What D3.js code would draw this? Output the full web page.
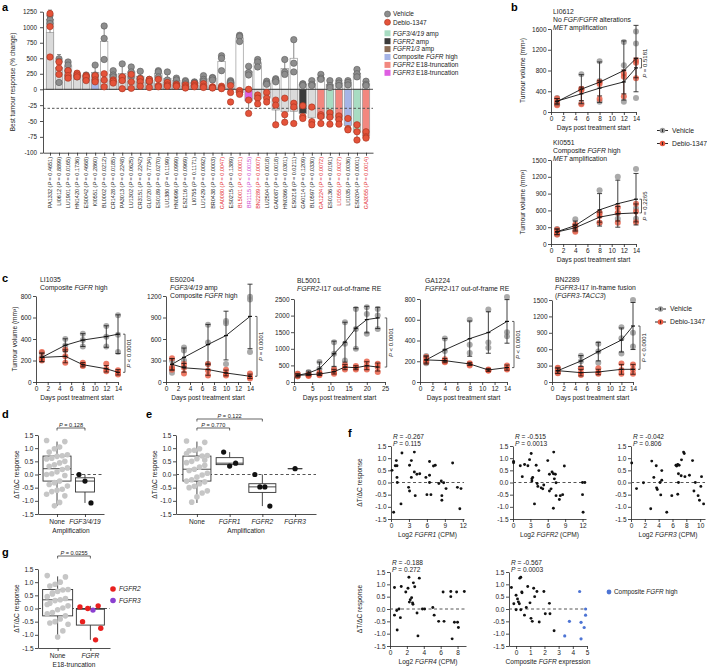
<!DOCTYPE html>
<html><head><meta charset="utf-8">
<script src="https://cdn.jsdelivr.net/npm/d3@7"></script>
<style>body{margin:0;background:#fff}</style>
</head><body><script>
// ================= DATA =================
// Panel a
const aModels = ["PA1332","LI0612","LU1901","HN1420","ES0042","KI0551","BL0002","CR1428","PA3013","LU1302","CR3151","GL0720","ES0189","LU1380","HN0696","ES2116","LI0755","LU1429","BR0438","GA0080","ES0215","BL5001","BR1115","BN2289","LU2504","GA0087","HN0366","ES0218","GA0114","BL0597","GA1224","ES0136","LI1055","LI1035","ES0204","GA3055"];
const aPvals = ["= 0.4651","= 0.8899","= 0.0165","= 0.1736","= 0.4668","= 0.2860","= 0.0212","= 0.0185","= 0.2248","= 0.0625","= 0.2242","= 0.7734","= 0.0270","= 0.1199","= 0.0999","= 0.0969","= 0.1171","= 0.0092","= 0.0003","= 0.0047","= 0.1389","< 0.0001","= 0.0015","= 0.0007","= 0.0018","= 0.0018","= 0.0301","= 0.0211","= 0.1209","= 0.0330","= 0.0072","= 0.0191","= 0.0027","= 0.0036","= 0.0001","= 0.0014"];
const aLabelClass = ["k","k","k","k","k","k","k","k","k","k","k","k","k","k","k","k","k","k","k","r","k","r","m","r","k","k","k","k","k","k","r","k","r","k","k","r"];
const aGroups = ["none","none","none","none","none","comp","none","none","none","none","none","none","none","none","none","none","none","none","none","none","none","none","fgfr3e18","none","none","none","none","none","fgfr2amp","none","fgfr2e18","fgf","fgfr2e18","comp","fgf","fgfr2e18"];
const aVehicle = [[1190,1120,1060],[490,450,110],[440,390,300],[250,220,200],[230,220,160],[390,230,200],[1020,820,480],[300,230,200],[410,200,150],[360,280,200],[290,180,160],[160,150,120],[300,280,200],[280,150,100],[180,150,90],[140,120,90],[120,110,100],[220,160,130],[190,180,150],[540,500,300],[140,120,100],[870,850,770],[370,270,230],[480,440,360],[130,100,80],[170,150,120],[480,280,240],[800,420,280],[90,80,60],[140,80,60],[240,180,160],[140,60,30],[140,100,60],[140,110,70],[320,250,200],[130,80,60]];
const aDebio = [[1220,1010,520],[440,340,240],[300,220,180],[260,230,200],[220,200,140],[220,150,120],[250,150,40],[150,130,100],[200,140,10],[240,120,15],[170,120,50],[160,130,30],[160,60,40],[110,70,50],[80,60,50],[70,40,20],[90,60,40],[90,50,30],[40,30,20],[50,30,10],[60,-5,-20],[-2,-5,-8],[0,-17,-38],[-9,-14,-23],[-5,-14,-20],[-17,-25,-56],[-14,-40,-52],[-22,-28,-54],[-26,-43,-46],[-28,-51,-56],[-40,-43,-54],[-37,-44,-55],[-42,-48,-55],[-46,-62,-64],[-56,-67,-80],[-67,-75,-77]];
const aPosTicks = [0,250,500,750,1000,1250];
const aNegTicks = [-25,-50,-75,-100];
const aThreshold = -30;
const aLegendGroups = [["fgf","*FGF3/4/19* amp"],["fgfr2amp","*FGFR2* amp"],["fgfr13","*FGFR1/3* amp"],["comp","Composite *FGFR* high"],["fgfr2e18","*FGFR2* E18-truncation"],["fgfr3e18","*FGFR3* E18-truncation"]];

// Panel b / c growth curves
const b1Days=[1,5,8,12,14], b1VMean=[200,440,575,800,1030], b1VErr=[60,280,390,570,640], b1DMean=[210,350,460,580,850], b1DErr=[50,130,150,230,190];
const b1VDots=[[270,180,150],[730,440,170],[980,600,200],[1350,900,200],[1550,1320,270]];
const b1DDots=[[260,200,130],[450,420,150],[580,540,250],[740,680,300],[1000,950,650]];
const b2Days=[1,4,8,11,14], b2VMean=[220,330,610,720,800], b2VErr=[50,80,290,420,460], b2DMean=[215,290,480,540,555], b2DErr=[50,60,90,130,160];
const b2VDots=[[270,200,170],[440,330,240],[960,560,380],[1200,550,450],[1340,640,450]];
const b2DDots=[[260,210,170],[350,300,220],[560,500,380],[650,560,380],[720,580,390]];
const c1Days=[1,5,8,12,14], c1VMean=[229,342,390,423,445], c1VErr=[40,60,60,100,180], c1DMean=[229,239,161,123,90], c1DErr=[40,60,20,30,25];
const c1VDots=[[270,230,210],[400,340,300],[450,390,330],[520,420,330],[620,440,280]];
const c1DDots=[[280,220,200],[300,240,180],[180,160,150],[170,120,100],[110,90,70]];
const c2Days=[1,3,7,10,14], c2VMean=[247,344,523,648,915], c2VErr=[80,130,280,340,450], c2DMean=[247,198,174,126,80], c2DErr=[80,60,80,40,30];
const c2VDots=[[300,200,130],[480,440,300],[800,550,250],[850,820,250],[1190,1150,420]];
const c2DDots=[[330,200,170],[250,200,120],[250,160,90],[170,110,90],[120,70,50]];
const c3Days=[1,4,7,11,14,17,20,23], c3VMean=[200,270,400,850,1200,1620,1880,1930], c3VErr=[50,60,200,380,600,620,400,320], c3DMean=[200,220,240,310,450,430,490,450], c3DErr=[40,30,40,70,80,60,120,120];
const c3VDots=[[250,200,170],[300,230,200],[600,400,250],[1200,850,400],[1800,1150,650],[2200,1600,1000],[2250,2050,1450],[2200,2000,1600]];
const c3DDots=[[250,200,170],[230,200,180],[280,240,200],[380,300,250],[520,450,380],[480,430,380],[620,480,380],[550,450,300]];
const c4Days=[1,4,8,11,14], c4VMean=[213,310,418,477,584], c4VErr=[40,110,170,200,210], c4DMean=[213,206,174,116,139], c4DErr=[30,20,15,15,25];
const c4VDots=[[250,200,180],[420,300,200],[600,360,280],[700,380,330],[820,480,440]];
const c4DDots=[[240,210,190],[220,200,190],[180,170,160],[120,110,110],[160,130,120]];
const c5Days=[1,5,8,12,14], c5VMean=[207,384,555,768,1024], c5VErr=[50,100,170,220,430], c5DMean=[207,171,183,232,232], c5DErr=[50,60,50,90,90];
const c5VDots=[[250,200,170],[480,380,250],[700,560,350],[1000,800,520],[1500,900,650]];
const c5DDots=[[260,200,160],[250,170,130],[250,180,150],[340,220,150],[320,230,150]];

// Panel d / e / g (ΔT/ΔC)
const dCats=["None","FGF3/4/19"];
const dNone=[1.29,1.25,1.04,0.98,0.85,0.75,0.71,0.69,0.62,0.59,0.5,0.44,0.37,0.31,0.25,0.19,0.1,0.03,0,-0.04,-0.25,-0.31,-0.38,-0.44,-0.56,-0.6,-0.65,-0.75,-0.81,-1.06,-1.19];
const dFgf=[0.0,-0.25,-1.08];
const dStats=[[-1.2,-0.25,0.22,0.7,1.25],[-1.08,-0.665,-0.25,-0.125,0]];
const eCats=["None","FGFR1","FGFR2","FGFR3"];
const eNone=[1.27,1.22,0.98,0.92,0.9,0.72,0.7,0.6,0.5,0.45,0.35,0.28,0.2,0.15,0.05,-0.02,-0.1,-0.2,-0.25,-0.28,-0.35,-0.45,-0.5,-0.62,-0.7,-0.85,-1.05,0.8,0.55];
const eF1=[0.85,0.32,0.43], eF2=[0,-0.47,-0.47,-1.2], eF3=[0.22];
const eStats=[[-1.08,-0.25,0.2,0.7,1.25],[0.32,0.375,0.43,0.64,0.85],[-1.2,-0.68,-0.47,-0.35,0],[0.22,0.22,0.22,0.22,0.22]];
const gCats=["None","FGFR"];
const gNone=[1.25,1.2,1.0,0.92,0.85,0.72,0.7,0.65,0.55,0.45,0.38,0.33,0.3,0.2,0.1,0.02,-0.05,-0.15,-0.2,-0.28,-0.4,-0.5,-0.55,-0.6,-0.85,-1.08,0.6,0.15];
const gFgfr=[0.06,0.1,-0.06,0,-0.5,-0.75,-1.19];
const gFgfrType=["FGFR2","FGFR2","FGFR3","FGFR2","FGFR2","FGFR2","FGFR2"];
const gStats=[[-1.08,-0.28,0.33,0.72,1.22],[-1.19,-0.63,-0.03,0,0.1]];

// Panel f scatter
const f1Pts=[[0.17,0.5],[0.44,-1.22],[0.72,0.69],[0.89,0.9],[1.0,0.69],[1.0,0.21],[1.05,0],[1.83,1.21],[1.67,-0.88],[2.94,-0.2],[3.1,0.71],[3.1,-0.35],[3.4,0.9],[3.4,0.21],[3.9,1.25],[3.9,0.43],[4.05,-0.54],[4.33,0.34],[4.8,0.36],[5.83,0.21],[6.0,-0.5],[6.44,0.86],[6.44,0.3],[6.44,0],[6.67,-0.5],[7.1,0.68],[7.4,0.71],[8.0,-0.04],[8.4,0.06],[8.5,-0.54],[8.5,-0.73],[8.8,-0.01],[9.2,-0.25],[10.3,0.8],[11.1,-0.2],[11.5,-1.08],[11.7,-0.25]];
const f2Pts=[[0.1,0.86],[0.1,0.81],[1.26,0.69],[1.6,0.24],[2.0,0.74],[2.57,0.69],[2.86,0.94],[3.14,1.19],[3.26,0.15],[3.4,0.21],[3.26,0.06],[3.71,-0.88],[4.0,0.71],[4.46,0.49],[4.17,-0.04],[4.29,-0.16],[4.86,-0.22],[5.14,-0.26],[5.31,-0.1],[6.0,0.9],[6.29,0.34],[6.29,-0.35],[6.57,-0.26],[6.74,0.43],[6.97,0.36],[7.03,1.25],[6.97,-1.06],[7.14,0.15],[7.31,0.34],[7.43,-0.01],[7.43,-0.54],[8.0,-0.7],[8.17,-0.54],[8.57,-0.5],[8.86,0.68],[12,0],[12.4,0],[12,-0.5],[12.1,-1.22]];
const f3Pts=[[0.1,0.8],[0.8,-0.25],[1.8,-0.01],[3.0,0.88],[3.3,0.21],[2.85,-1.08],[3.65,0.69],[3.7,-0.22],[3.8,-0.29],[4.2,0],[4.45,0.49],[4.45,0.09],[4.3,-0.51],[5.17,-1.22],[5.9,-0.54],[6.5,0.71],[6.6,0.68],[6.76,0.74],[6.86,0.36],[6.86,0],[6.76,-0.48],[6.96,0.71],[7.25,0.28],[7.3,0.93],[7.6,1.25],[7.7,1.19],[7.8,0.24],[8.45,0.3],[8.9,0.9],[9.1,-0.35],[9.3,0],[9.7,-0.54],[9.9,-0.73],[10.2,0.24],[10.1,-0.16],[10.5,-0.88]];
const f4Pts=[[0.53,0.87],[0.53,-0.25],[0.8,-0.06],[0.85,-0.85],[1.07,0],[1.23,-0.35],[1.33,0.91],[1.87,0.69],[2.13,0.84],[2.24,1.29],[2.4,0.38],[2.29,0.28],[2.56,0.46],[2.67,0.25],[2.72,0.19],[2.77,1.06],[2.93,0.9],[3.2,-0.16],[3.31,-1.09],[3.47,1.25],[3.84,0],[4.1,0],[5.07,0.06],[5.23,-0.25],[5.76,-0.5],[6.4,-0.5],[6.29,0.69],[7.2,0.5],[7.2,0.71],[7.36,-1.21],[7.63,-0.54],[7.89,0.69],[8.0,-0.54],[8.1,-0.75],[8.8,0.71]];
const f5Pts=[[-0.33,0.87],[-0.16,0.21],[0,0.56],[0.1,0.41],[0.16,0.29],[0,-0.03],[0.23,0.21],[0.33,-0.03],[0.26,1.25],[0.33,1.29],[0.42,0.66],[0.4,0.69],[0.59,-0.25],[0.72,0.06],[0.82,0.91],[0.98,0.25],[1.05,-0.38],[1.14,-0.5],[1.24,0.84],[1.31,0.5],[1.47,0.71],[1.63,-0.53],[1.96,0.71],[2.06,-0.19],[2.35,0.23],[2.39,-0.19],[2.68,-0.88]];
const f5High=[[3.43,-1.09],[3.76,-0.5],[4.48,0.71],[4.58,-0.54],[4.58,-1.21],[4.8,-0.75],[4.9,0],[4.9,-0.25]];
const fStats=[["R = -0.267","P = 0.115"],["R = -0.515","P = 0.0013"],["R = -0.042","P = 0.806"],["R = -0.188","P = 0.272"],["R = -0.567","P = 0.0003"]];

// ================= DRAWING =================
const FONT='"Liberation Sans", Arial, Helvetica, sans-serif';
const INK="#222";
const COL={gray:"#8d8d8d",grayS:"#5c5c5c",red:"#e4533a",redS:"#a5321f",light:"#c8c8c8"};
const groupFill={none:"#dadada",fgf:"#a8dcc2",fgfr2amp:"#3a3a3a",fgfr13:"#8b6d57",comp:"#a6b4e6",fgfr2e18:"#f2877f",fgfr3e18:"#de5ee2"};
const labelFill={k:"#222",r:"#e3262b",m:"#c93ad0"};
const fmtInt=d3.format("d");
const svg=d3.select("body").append("svg").attr("width",707).attr("height",669).attr("font-family",FONT);
svg.append("rect").attr("width",707).attr("height",669).attr("fill","#fff");

function rich(g,x,y,str,size,o={}){
  const t=g.append("text").attr("x",x).attr("y",y).attr("font-size",size).attr("fill",o.fill||INK).attr("font-family",FONT);
  if(o.anchor) t.attr("text-anchor",o.anchor);
  if(o.rotate!==undefined) t.attr("transform",`rotate(${o.rotate},${x},${y})`);
  if(o.weight) t.attr("font-weight",o.weight);
  str.split("*").forEach((s,i)=>{ if(s) t.append("tspan").attr("font-style",i%2?"italic":"normal").text(s); });
  return t;
}
function sty(g,fs=6.3){
  g.attr("font-family",FONT).attr("font-size",fs);
  g.selectAll(".domain").attr("stroke",INK).attr("stroke-width",0.8);
  g.selectAll(".tick line").attr("stroke",INK).attr("stroke-width",0.8);
  g.selectAll(".tick text").attr("fill",INK);
}
const fmtDash=f=>v=>f(v).replace("\u2212","-");

// panel letters
[["a",2,11],["b",511,11],["c",2,282],["d",2,418],["e",146,418],["f",348,437],["g",2,556]].forEach(([l,x,y])=>rich(svg,x,y,l,11,{weight:"bold",fill:"#000"}));

// ---------- Panel a ----------
(function(){
  const g=svg.append("g");
  const x=d3.scalePoint().domain(aModels).range([43,373]).padding(0.775);
  const yp=d3.scaleLinear().domain([0,1250]).range([89.3,11.7]);
  const yn=d3.scaleLinear().domain([-100,0]).range([152.7,89.3]);
  const y=v=>v>=0?yp(v):yn(v);
  const bw=7.4;
  g.append("g").attr("transform","translate(43,0)").call(d3.axisLeft(yp).tickValues(aPosTicks).tickFormat(fmtInt).tickSize(3).tickSizeOuter(0)).call(sty,6.3);
  g.append("g").attr("transform","translate(43,0)").call(d3.axisLeft(yn).tickValues(aNegTicks).tickFormat(fmtDash(fmtInt)).tickSize(3).tickSizeOuter(0)).call(sty,6.3);
  g.append("g").attr("transform","translate(0,152.7)").call(d3.axisBottom(x).tickSize(3).tickSizeOuter(0).tickFormat("")).call(sty);
  rich(g,15,82,"Best tumour response (% change)",6.5,{anchor:"middle",rotate:-90});
  aModels.forEach((m,i)=>{
    const vm=d3.mean(aVehicle[i]), dm=d3.mean(aDebio[i]);
    const cx=x(m);
    g.append("rect").attr("x",cx-bw/2).attr("width",bw).attr("y",Math.min(y(vm),y(0))).attr("height",Math.abs(y(vm)-y(0))).attr("fill","#fff").attr("stroke","#9a9a9a").attr("stroke-width",0.7);
    g.append("rect").attr("x",cx-bw/2).attr("width",bw).attr("y",Math.min(y(dm),y(0))).attr("height",Math.abs(y(dm)-y(0))).attr("fill",groupFill[aGroups[i]]).attr("stroke","#9a9a9a").attr("stroke-width",0.7);
    [[vm,d3.deviation(aVehicle[i])],[dm,d3.deviation(aDebio[i])]].forEach(([mn,sd])=>{
      const e=mn+(mn>=0?sd:-sd);
      g.append("line").attr("x1",cx).attr("x2",cx).attr("y1",y(mn)).attr("y2",y(e)).attr("stroke","#555").attr("stroke-width",0.7);
      g.append("line").attr("x1",cx-2).attr("x2",cx+2).attr("y1",y(e)).attr("y2",y(e)).attr("stroke","#555").attr("stroke-width",0.7);
    });
  });
  g.append("line").attr("x1",43).attr("x2",373).attr("y1",y(0)).attr("y2",y(0)).attr("stroke",INK).attr("stroke-width",0.8);
  g.append("line").attr("x1",43).attr("x2",373).attr("y1",y(aThreshold)).attr("y2",y(aThreshold)).attr("stroke","#555").attr("stroke-width",1).attr("stroke-dasharray","2.5,2");
  aModels.forEach((m,i)=>{
    aVehicle[i].forEach(v=>g.append("circle").attr("cx",x(m)).attr("cy",y(v)).attr("r",3.2).attr("fill",COL.gray).attr("stroke",COL.grayS).attr("stroke-width",0.6));
  });
  aModels.forEach((m,i)=>{
    aDebio[i].forEach(v=>g.append("circle").attr("cx",x(m)).attr("cy",y(v)).attr("r",3.2).attr("fill",COL.red).attr("stroke",COL.redS).attr("stroke-width",0.6));
  });
  aModels.forEach((m,i)=>{
    rich(g,x(m)+2,157,`${m} (*P* ${aPvals[i]})`,5.5,{anchor:"end",rotate:-90,fill:labelFill[aLabelClass[i]]});
  });
  const lg=svg.append("g");
  lg.append("circle").attr("cx",387.5).attr("cy",14).attr("r",3).attr("fill",COL.gray).attr("stroke",COL.grayS).attr("stroke-width",0.6);
  rich(lg,393,16.3,"Vehicle",6.5);
  lg.append("circle").attr("cx",387.5).attr("cy",22.3).attr("r",3).attr("fill",COL.red).attr("stroke",COL.redS).attr("stroke-width",0.6);
  rich(lg,393,24.6,"Debio-1347",6.5);
  aLegendGroups.forEach(([k,t],i)=>{
    const yy=33.3+i*7.9;
    lg.append("rect").attr("x",384.5).attr("y",yy-3).attr("width",6).attr("height",6).attr("fill",groupFill[k]);
    rich(lg,393,yy+2.3,t,6.5);
  });
})();

// ---------- growth chart helper ----------
function growth(c){
  const g=svg.append("g");
  const x=d3.scaleLinear().domain(c.xd).range(c.xr);
  const y=d3.scaleLinear().domain(c.yd).range(c.yr);
  g.append("g").attr("transform",`translate(0,${c.yr[0]})`).call(d3.axisBottom(x).tickValues(c.xt).tickFormat(fmtInt).tickSize(3).tickSizeOuter(0).tickPadding(1.5)).call(sty,6.5);
  g.append("g").attr("transform",`translate(${c.xr[0]},0)`).call(d3.axisLeft(y).tickValues(c.yt).tickFormat(fmtInt).tickSize(3).tickSizeOuter(0).tickPadding(1.5)).call(sty,6.5);
  rich(g,(c.xr[0]+c.xr[1])/2,c.yr[0]+18,"Days post treatment start",6.6,{anchor:"middle"});
  if(c.ylab) rich(g,c.ylab,(c.yr[0]+c.yr[1])/2,"Tumour volume (mm\u00b3)",6.6,{anchor:"middle",rotate:-90});
  c.title.forEach((t,i)=>rich(g,c.tx,c.ty+i*8,t,6.8));
  c.days.forEach((d,i)=>{
    c.vDots[i].forEach(v=>g.append("circle").attr("cx",x(d)).attr("cy",y(v)).attr("r",3).attr("fill","#9b9b9b").attr("opacity",0.85));
  });
  c.days.forEach((d,i)=>{
    c.dDots[i].forEach(v=>g.append("circle").attr("cx",x(d)).attr("cy",y(v)).attr("r",3).attr("fill","#e8583f").attr("opacity",0.8));
  });
  const ln=d3.line().x((d,i)=>x(c.days[i])).y(d=>y(d));
  [[c.vMean,c.vErr,"#2a2a2a"],[c.dMean,c.dErr,"#3a1a14"]].forEach(([m,e,col])=>{
    g.append("path").attr("d",ln(m)).attr("fill","none").attr("stroke","#111").attr("stroke-width",0.9);
    m.forEach((v,i)=>{
      const cx=x(c.days[i]);
      g.append("line").attr("x1",cx).attr("x2",cx).attr("y1",y(v+e[i])).attr("y2",y(Math.max(0,v-e[i]))).attr("stroke",col).attr("stroke-width",0.9);
      [v+e[i],Math.max(0,v-e[i])].forEach(w=>g.append("line").attr("x1",cx-2.5).attr("x2",cx+2.5).attr("y1",y(w)).attr("y2",y(w)).attr("stroke",col).attr("stroke-width",0.9));
      g.append("line").attr("x1",cx-2).attr("x2",cx+2).attr("y1",y(v)).attr("y2",y(v)).attr("stroke","#111").attr("stroke-width",1.2);
    });
  });
  const last=c.days.length-1, bx=x(c.days[last])+c.bOff;
  const ya=y(c.vMean[last]), yb=y(c.dMean[last]);
  g.append("path").attr("d",`M${bx-2},${ya}H${bx}V${yb}H${bx-2}`).attr("fill","none").attr("stroke",INK).attr("stroke-width",0.7);
  rich(g,bx+6,(ya+yb)/2,c.p,6,{anchor:"middle",rotate:-90});
}
function growthLegend(x0,y0){
  const g=svg.append("g");
  [["Vehicle","#9b9b9b"],["Debio-1347","#e8583f"]].forEach(([t,c],i)=>{
    const yy=y0+i*13;
    g.append("line").attr("x1",x0).attr("x2",x0+11).attr("y1",yy).attr("y2",yy).attr("stroke","#111").attr("stroke-width",0.9);
    g.append("circle").attr("cx",x0+5.5).attr("cy",yy).attr("r",2.8).attr("fill",c);
    g.append("line").attr("x1",x0+5.5).attr("x2",x0+5.5).attr("y1",yy-1.5).attr("y2",yy+1.5).attr("stroke","#111").attr("stroke-width",0.8);
    rich(g,x0+15,yy+2.4,t,6.8);
  });
}
growth({xd:[0,14],xr:[551,636],yd:[0,1600],yr:[112,29],xt:d3.range(0,15,2),yt:[0,400,800,1200,1600],ylab:525,
  title:["LI0612","No *FGF/FGFR* alterations","*MET* amplification"],tx:553,ty:13.5,
  days:b1Days,vMean:b1VMean,vErr:b1VErr,dMean:b1DMean,dErr:b1DErr,vDots:b1VDots,dDots:b1DDots,bOff:5.5,p:"*P* = 0.5181"});
growth({xd:[0,14],xr:[551,636],yd:[0,1500],yr:[244,160],xt:d3.range(0,15,2),yt:[0,300,600,900,1200,1500],ylab:525,
  title:["KI0551","Composite *FGFR* high","*MET* amplification"],tx:553,ty:145,
  days:b2Days,vMean:b2VMean,vErr:b2VErr,dMean:b2DMean,dErr:b2DErr,vDots:b2VDots,dDots:b2DDots,bOff:5.5,p:"*P* = 0.2265"});
growthLegend(657,130.5);
growth({xd:[0,14],xr:[36,118],yd:[0,800],yr:[382,296],xt:d3.range(0,15,2),yt:[0,200,400,600,800],ylab:17,
  title:["LI1035","Composite *FGFR* high"],tx:40,ty:282,
  days:c1Days,vMean:c1VMean,vErr:c1VErr,dMean:c1DMean,dErr:c1DErr,vDots:c1VDots,dDots:c1DDots,bOff:7,p:"*P* < 0.0001"});
growth({xd:[0,14],xr:[166,250],yd:[0,1200],yr:[382,296],xt:d3.range(0,15,2),yt:[0,300,600,900,1200],
  title:["ES0204","*FGF3/4/19* amp","Composite *FGFR* high"],tx:170,ty:282,
  days:c2Days,vMean:c2VMean,vErr:c2VErr,dMean:c2DMean,dErr:c2DErr,vDots:c2VDots,dDots:c2DDots,bOff:7,p:"*P* = 0.0001"});
growth({xd:[0,25],xr:[294,385],yd:[0,2500],yr:[382,299],xt:[0,5,10,15,20,25],yt:[0,500,1000,1500,2000,2500],
  title:["BL5001","*FGFR2*-I17 out-of-frame RE"],tx:297,ty:283,
  days:c3Days,vMean:c3VMean,vErr:c3VErr,dMean:c3DMean,dErr:c3DErr,vDots:c3VDots,dDots:c3DDots,bOff:9,p:"*P* < 0.0001"});
growth({xd:[0,14],xr:[420,507],yd:[0,800],yr:[382,299],xt:d3.range(0,15,2),yt:[0,200,400,600,800],
  title:["GA1224","*FGFR2*-I17 out-of-frame RE"],tx:425,ty:283,
  days:c4Days,vMean:c4VMean,vErr:c4VErr,dMean:c4DMean,dErr:c4DErr,vDots:c4VDots,dDots:c4DDots,bOff:7,p:"*P* < 0.0001"});
growth({xd:[0,14],xr:[552,633],yd:[0,1500],yr:[382,300],xt:d3.range(0,15,2),yt:[0,300,600,900,1200,1500],
  title:["BN2289","*FGFR3*-I17 in-frame fusion","(*FGFR3-TACC3*)"],tx:555,ty:282,
  days:c5Days,vMean:c5VMean,vErr:c5VErr,dMean:c5DMean,dErr:c5DErr,vDots:c5VDots,dDots:c5DDots,bOff:7,p:"*P* < 0.0001"});
growthLegend(655,309);

// ---------- box plot helper ----------
function boxes(c){
  const g=svg.append("g");
  const x=d3.scalePoint().domain(c.cats).range(c.xr).padding(c.pad);
  const y=d3.scaleLinear().domain([-1.5,1.5]).range(c.yr);
  g.append("g").attr("transform",`translate(0,${c.yr[0]})`).call(d3.axisBottom(x).tickSize(3).tickSizeOuter(0).tickFormat(d=>"")).call(sty,6.5);
  g.append("g").attr("transform",`translate(${c.xr[0]},0)`).call(d3.axisLeft(y).tickValues([-1.5,-1,-0.5,0,0.5,1,1.5]).tickFormat(fmtDash(d3.format(".1f"))).tickSize(3).tickSizeOuter(0).tickPadding(1.5)).call(sty,6.5);
  c.cats.forEach(k=>rich(g,x(k),c.yr[0]+10,c.italic&&k!=="None"?`*${k}*`:k,6.6,{anchor:"middle"}));
  rich(g,(c.xr[0]+c.xr[1])/2,c.yr[0]+19,c.xlab,6.6,{anchor:"middle"});
  rich(g,c.ylabX,(c.yr[0]+c.yr[1])/2,"\u0394T/\u0394C response",6.6,{anchor:"middle",rotate:-90});
  g.append("line").attr("x1",c.xr[0]).attr("x2",c.dashEnd).attr("y1",y(0)).attr("y2",y(0)).attr("stroke","#555").attr("stroke-width",1).attr("stroke-dasharray","3,2.5");
  c.stats.forEach((s,i)=>{
    const cx=x(c.cats[i]), w=c.bw[i];
    g.append("line").attr("x1",cx).attr("x2",cx).attr("y1",y(s[0])).attr("y2",y(s[4])).attr("stroke","#333").attr("stroke-width",0.9);
    g.append("rect").attr("x",cx-w/2).attr("width",w).attr("y",y(s[3])).attr("height",Math.max(0.01,y(s[1])-y(s[3]))).attr("fill","#fff").attr("stroke","#333").attr("stroke-width",0.9);
    g.append("line").attr("x1",cx-w/2).attr("x2",cx+w/2).attr("y1",y(s[2])).attr("y2",y(s[2])).attr("stroke","#333").attr("stroke-width",0.9);
  });
  c.groups.forEach((grp,i)=>{
    const cx=x(c.cats[i]);
    grp.vals.forEach((v,j)=>{
      const n=grp.vals.length;
      const jit=n>4?(((j*7)%9)-4)*2.6:(j-(n-1)/2)*grp.spread;
      g.append("circle").attr("cx",cx+jit).attr("cy",y(v)).attr("r",grp.r).attr("fill",grp.color(j));
    });
  });
  c.brackets.forEach(([a,b,yy,t])=>{
    g.append("path").attr("d",`M${x(a)},${yy+2.5}V${yy}H${x(b)}V${yy+2.5}`).attr("fill","none").attr("stroke",INK).attr("stroke-width",0.7);
    rich(g,(x(a)+x(b))/2,yy-1.5,t,5.6,{anchor:"middle"});
  });
}
boxes({cats:dCats,xr:[38,104],pad:0.68,yr:[514,435],italic:true,xlab:"Amplification",ylabX:19,dashEnd:104,bw:[28,19],
  stats:dStats,groups:[{vals:dNone,r:2.8,color:()=>"#c6c6c6",spread:0},{vals:dFgf,r:2.6,color:()=>"#111",spread:6}],
  brackets:[["None","FGF3/4/19",428,"*P* = 0.128"]]});
boxes({cats:eCats,xr:[176,316],pad:0.64,yr:[514,435],italic:true,xlab:"Amplification",ylabX:157,dashEnd:316,bw:[28,27,27,14],
  stats:eStats,groups:[{vals:eNone,r:2.8,color:()=>"#c6c6c6",spread:0},{vals:eF1,r:2.6,color:()=>"#111",spread:6},{vals:eF2,r:2.6,color:()=>"#111",spread:5},{vals:eF3,r:2.6,color:()=>"#111",spread:0}],
  brackets:[["None","FGFR1",428,"*P* = 0.770"],["None","FGFR2",419,"*P* = 0.122"]]});
boxes({cats:gCats,xr:[38,110],pad:0.6,yr:[648,569],italic:true,xlab:"E18-truncation",ylabX:19,dashEnd:110,bw:[30,28],
  stats:gStats,groups:[{vals:gNone,r:2.8,color:()=>"#c6c6c6",spread:0},{vals:gFgfr,r:2.7,color:j=>gFgfrType[j]==="FGFR3"?"#8b3fd0":"#e8201f",spread:4}],
  brackets:[["None","FGFR",556,"*P* = 0.0255"]]});
(function(){
  const g=svg.append("g");
  [["*FGFR2*","#e8201f"],["*FGFR3*","#8b3fd0"]].forEach(([t,c],i)=>{
    g.append("circle").attr("cx",113).attr("cy",589+i*11.5).attr("r",2.8).attr("fill",c);
    rich(g,119,591.3+i*11.5,t,6.6);
  });
})();

// ---------- scatter helper ----------
function scatter(c){
  const g=svg.append("g");
  const x=d3.scaleLinear().domain(c.xd).range(c.xr);
  const y=d3.scaleLinear().domain([-1.5,1.5]).range(c.yr);
  g.append("g").attr("transform",`translate(0,${c.yr[0]})`).call(d3.axisBottom(x).tickValues(c.xt).tickFormat(fmtInt).tickSize(3).tickSizeOuter(0).tickPadding(1.5)).call(sty,6.5);
  g.append("g").attr("transform",`translate(${c.xr[0]},0)`).call(d3.axisLeft(y).tickValues([-1.5,-1,-0.5,0,0.5,1,1.5]).tickFormat(fmtDash(d3.format(".1f"))).tickSize(3).tickSizeOuter(0).tickPadding(1.5)).call(sty,6.5);
  g.append("line").attr("x1",c.xr[0]).attr("x2",c.xr[1]).attr("y1",y(0)).attr("y2",y(0)).attr("stroke","#555").attr("stroke-width",1).attr("stroke-dasharray","3,2.5");
  c.pts.forEach(p=>g.append("circle").attr("cx",x(p[0])).attr("cy",y(p[1])).attr("r",1.45).attr("fill","#111"));
  (c.pts2||[]).forEach(p=>g.append("circle").attr("cx",x(p[0])).attr("cy",y(p[1])).attr("r",1.6).attr("fill","#4d74d4"));
  rich(g,(c.xr[0]+c.xr[1])/2,c.yr[0]+17.5,c.xlab,6.6,{anchor:"middle"});
  if(c.ylab) rich(g,c.ylab,(c.yr[0]+c.yr[1])/2,"\u0394T/\u0394C response",6.6,{anchor:"middle",rotate:-90});
  const [r,p]=c.stat;
  rich(g,c.xr[0]+2,c.yr[1]-7.5,"*R* "+r.slice(2),6.6);
  rich(g,c.xr[0]+2,c.yr[1]-0.5,"*P* "+p.slice(2),6.6);
}
scatter({xd:[0,12.2],xr:[391,464],yr:[519,446],xt:[0,3,6,9,12],pts:f1Pts,xlab:"Log2 *FGFR1* (CPM)",ylab:362,stat:fStats[0]});
scatter({xd:[0,12.6],xr:[513,586],yr:[519,446],xt:[0,3,6,9,12],pts:f2Pts,xlab:"Log2 *FGFR2* (CPM)",stat:fStats[1]});
scatter({xd:[0,10.7],xr:[631,705],yr:[519,446],xt:[0,2,4,6,8,10],pts:f3Pts,xlab:"Log2 *FGFR3* (CPM)",stat:fStats[2]});
scatter({xd:[0,9],xr:[390,466],yr:[646,572],xt:[0,2,4,6,8],pts:f4Pts,xlab:"Log2 *FGFR4* (CPM)",ylab:362,stat:fStats[3]});
scatter({xd:[-0.5,5],xr:[509,587],yr:[646,572],xt:[0,1,2,3,4,5],pts:f5Pts,pts2:f5High,xlab:"Composite *FGFR* expression",stat:fStats[4]});
(function(){
  const g=svg.append("g");
  g.append("circle").attr("cx",609).attr("cy",592).attr("r",2.4).attr("fill","#4d74d4");
  rich(g,614,594.3,"Composite *FGFR* high",6.4);
})();
</script></body></html>
